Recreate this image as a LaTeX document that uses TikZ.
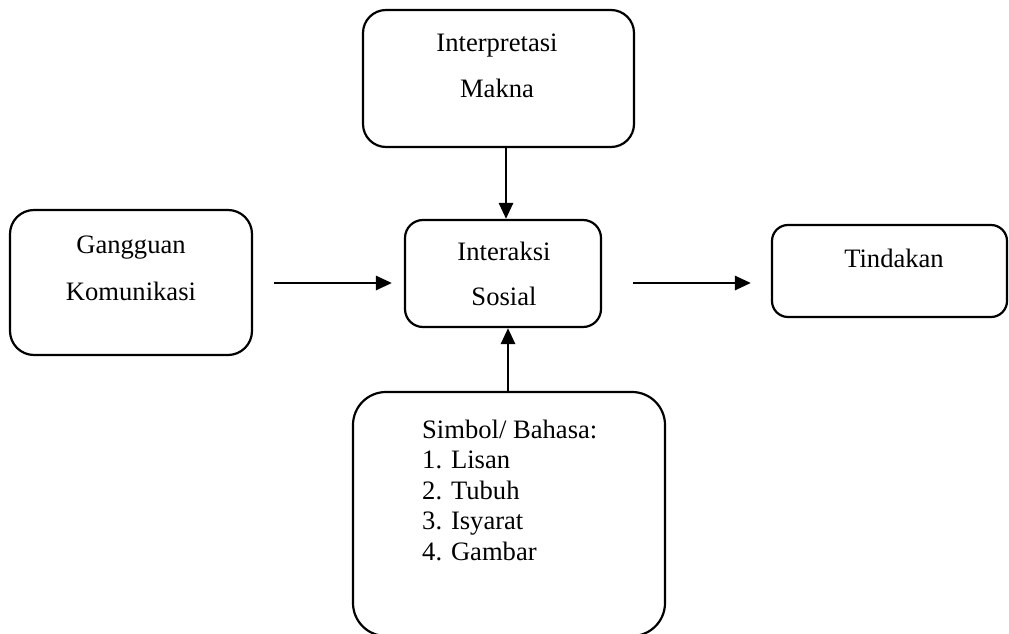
\documentclass[tikz,border=0pt]{standalone}
\usepackage{fontspec}
\setmainfont{Liberation Serif}
\usetikzlibrary{arrows.meta}
\begin{document}
\begin{tikzpicture}[x=1pt,y=-1pt,
  box/.style={draw=black, line width=2.2pt, inner sep=0pt, rectangle},
  lbl/.style={inner sep=0pt, anchor=base, font=\fontsize{26.6}{30.5}\selectfont},
  arr/.style={line width=2.8pt, -{Triangle[length=16pt,width=14pt]}}]
\useasboundingbox (0,0) rectangle (1009,634);
% boxes
\node[box, rounded corners=23pt, minimum width=271pt, minimum height=137pt] (interp) at (498.5,78.5) {};
\node[box, rounded corners=18pt, minimum width=196pt, minimum height=107pt] (interaksi) at (503,273.5) {};
\node[box, rounded corners=24pt, minimum width=242pt, minimum height=145pt] (gangguan) at (131,282.5) {};
\node[box, rounded corners=16pt, minimum width=235pt, minimum height=92pt] (tindakan) at (889.5,271) {};
\node[box, rounded corners=33pt, minimum width=312pt, minimum height=244pt] (simbol) at (509,514) {};
% texts
\node[lbl] (tinterp) at (497,52) {\begin{tabular}[t]{@{}c@{}}Interpretasi\\[15.5pt] Makna\end{tabular}};
\node[lbl] (tinteraksi) at (504,260) {\begin{tabular}[t]{@{}c@{}}Interaksi\\[14.5pt] Sosial\end{tabular}};
\node[lbl] (tgangguan) at (131,253) {\begin{tabular}[t]{@{}c@{}}Gangguan\\[16.5pt] Komunikasi\end{tabular}};
\node[lbl] (ttindakan) at (894,267) {Tindakan};
\node[lbl, anchor=base west] (tsimbol) at (422,438) {\begin{tabular}[t]{@{}l@{}}Simbol/ Bahasa:\\1. Lisan\\2. Tubuh\\3. Isyarat\\4. Gambar\end{tabular}};
% connectors
\draw[arr] ([xshift=7.5pt]interp.south) -- ([xshift=3pt]interaksi.north);
\draw[arr] ([xshift=-1pt]simbol.north) -- ([xshift=5pt]interaksi.south);
\draw[arr] ([shift={(21,0.5)}]gangguan.east) -- ([shift={(-12,9.5)}]interaksi.west);
\draw[arr] ([shift={(31,9.5)}]interaksi.east) -- ([shift={(-20,12)}]tindakan.west);
\end{tikzpicture}
\end{document}
